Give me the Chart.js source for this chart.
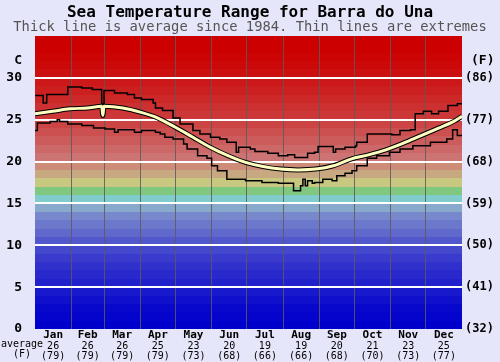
<!DOCTYPE html>
<html>
<head>
<meta charset="utf-8">
<script src="https://cdn.jsdelivr.net/npm/chart.js@4.4.1/dist/chart.umd.min.js"></script>
<style>
	html, body { margin: 0; padding: 0; background: #e6e6fa; }
	#wrap { width: 500px; height: 362px; }
</style>
</head>
<body>
<div id="wrap"><canvas id="sst-chart" width="500" height="362"></canvas></div>
<script>
( function () {
	'use strict';

	// ----------------------------------------------------------------
	// Data
	// ----------------------------------------------------------------
	var MONTHS     = [ 'Jan', 'Feb', 'Mar', 'Apr', 'May', 'Jun', 'Jul', 'Aug', 'Sep', 'Oct', 'Nov', 'Dec' ];
	var MONTH_DAYS = [ 31, 28, 31, 30, 31, 30, 31, 31, 30, 31, 30, 31 ];
	var AVG_C      = [ 26, 26, 26, 25, 23, 20, 19, 19, 20, 21, 23, 25 ];
	var AVG_F      = [ 79, 79, 79, 79, 73, 68, 66, 66, 68, 70, 73, 77 ];

	var Y_TICKS = [ 0, 5, 10, 15, 20, 25, 30 ];

	// average since 1984 (day of year, deg C)
	var AVG_DAY  = [ 0, 15, 30, 45, 57, 58, 59, 75, 90, 105, 120, 135, 150, 165, 180, 195, 210, 225, 240, 255, 270, 285, 300, 315, 330, 345, 358, 365 ];
	var AVG_TEMP = [ 25.7, 26.0, 26.3, 26.4, 26.6, 25.5, 26.6, 26.4, 25.9, 25.2, 24.1, 22.9, 21.7, 20.7, 19.9, 19.4, 19.1, 19.0, 19.1, 19.5, 20.3, 20.8, 21.4, 22.2, 23.1, 24.0, 24.8, 25.4 ];

	// warmest on record
	var MAX_DAY  = [ 0, 7, 10, 28, 40, 49, 57, 59, 68, 79, 85, 91, 101, 103, 109, 118, 124, 135, 141, 150, 158, 164, 172, 174, 184, 188, 199, 208, 216, 222, 233, 239, 242, 255, 257, 265, 274, 275, 284, 305, 312, 321, 325, 332, 339, 345, 353, 361, 365 ];
	var MAX_TEMP = [ 27.9, 27.0, 28.0, 28.9, 28.8, 28.6, 26.9, 28.5, 28.2, 28.0, 27.6, 27.4, 27.0, 26.4, 26.1, 25.2, 24.5, 23.7, 23.3, 22.9, 22.7, 22.3, 21.1, 21.7, 21.5, 21.2, 21.0, 20.7, 20.8, 20.5, 21.0, 21.1, 21.8, 21.1, 21.5, 21.7, 21.9, 22.3, 23.3, 23.2, 23.7, 23.8, 25.7, 26.0, 25.7, 26.0, 26.7, 26.9, 26.9 ];

	// coldest on record
	var MIN_DAY  = [ 0, 2, 13, 19, 21, 28, 40, 50, 60, 68, 71, 85, 91, 103, 107, 111, 118, 127, 130, 139, 147, 151, 156, 164, 180, 194, 208, 221, 227, 229, 231, 233, 237, 239, 246, 254, 258, 265, 271, 275, 284, 292, 303, 312, 323, 338, 352, 357, 361, 365 ];
	var MIN_TEMP = [ 23.7, 24.6, 24.8, 25.0, 24.8, 24.5, 24.3, 24.0, 23.9, 23.5, 23.8, 23.5, 23.7, 23.5, 23.3, 22.9, 22.7, 22.1, 21.5, 20.7, 20.4, 19.5, 18.9, 17.9, 17.7, 17.5, 17.4, 16.5, 17.1, 17.9, 17.1, 17.7, 17.4, 17.5, 17.9, 17.7, 18.3, 18.6, 18.9, 19.5, 20.4, 20.7, 21.1, 21.5, 21.9, 22.3, 22.7, 23.8, 23.1, 23.1 ];

	// one colour per degree band, 0-1 C first
	var BAND_COLORS = [
		'#0000cc', '#0404cc', '#0808cc', '#1010cc', '#1818cc',
		'#2020cc', '#2828cc', '#3030cc', '#3a3acc', '#4448cc',
		'#5058cc', '#6068cc', '#6c78cc', '#7888cc', '#88a8cc',
		'#80cccc', '#80c880', '#c8c880', '#c8a880', '#cc8c78',
		'#cc7474', '#cc6868', '#cc5c5c', '#cc5050', '#cc4444',
		'#cc3838', '#cc3030', '#cc2828', '#cc2020', '#cc1818',
		'#cc1010', '#cc0808', '#cc0404', '#cc0000', '#cc0000',
	];

	var MONO = '"DejaVu Sans Mono", "Liberation Mono", monospace';

	// ----------------------------------------------------------------
	// Helpers
	// ----------------------------------------------------------------

	function points( xs, ys ) {
		return xs.map( function ( x, i ) { return { x: x, y: ys[ i ] }; } );
	}

	var boundaries = [];
	var mids = {};
	( function () {
		var start = 0;
		MONTH_DAYS.forEach( function ( d, i ) {
			mids[ start + d / 2 ] = i;
			start += d;
			if ( i < 11 ) { boundaries.push( start ); }
		} );
	}() );

	function isBoundary( v ) {
		return boundaries.indexOf( v ) !== -1;
	}

	function setYTicks( scale ) {
		scale.ticks = Y_TICKS.map( function ( v ) { return { value: v }; } );
	}

	function setMonthTicks( scale ) {
		var vals = boundaries.slice();
		Object.keys( mids ).forEach( function ( k ) { vals.push( parseFloat( k ) ); } );
		vals.sort( function ( a, b ) { return a - b; } );
		scale.ticks = vals.map( function ( v ) { return { value: v }; } );
	}

	// ----------------------------------------------------------------
	// Plugins
	// ----------------------------------------------------------------

	var bandsPlugin = {
		id: 'bands',
		beforeDraw: function ( chart ) {
			var ctx  = chart.ctx;
			var area = chart.chartArea;
			var y    = chart.scales.y;
			ctx.save();
			BAND_COLORS.forEach( function ( color, i ) {
				var top = Math.round( y.getPixelForValue( i + 1 ) );
				var bot = Math.round( y.getPixelForValue( i ) );
				ctx.fillStyle = color;
				ctx.fillRect( area.left, top, area.right - area.left, bot - top );
			} );
			ctx.restore();
		},
	};

	var extraLabels = {
		id: 'extraLabels',
		afterDraw: function ( chart ) {
			var ctx  = chart.ctx;
			var area = chart.chartArea;
			ctx.save();
			ctx.fillStyle    = '#000';
			ctx.textBaseline = 'middle';
			ctx.font = 'bold 13px ' + MONO;
			ctx.textAlign = 'right';
			ctx.fillText( 'C', area.left - 13, area.top + 25 );
			ctx.textAlign = 'left';
			ctx.fillText( '(F)', area.right + 9, area.top + 25 );
			ctx.font = '10px ' + MONO;
			ctx.textAlign = 'center';
			ctx.fillText( 'average', 22, area.bottom + 15 );
			ctx.fillText( '(F)', 22, area.bottom + 25 );
			ctx.restore();
		},
	};

	// ----------------------------------------------------------------
	// Chart
	// ----------------------------------------------------------------

	new Chart( document.getElementById( 'sst-chart' ), {
		type: 'line',
		data: {
			datasets: [
				{
					label       : 'Average',
					data        : points( AVG_DAY, AVG_TEMP ),
					borderColor : '#ffffc0',
					borderWidth : 3,
					tension     : 0.4,
					cubicInterpolationMode: 'monotone',
				},
				{
					label       : 'Average outline',
					data        : points( AVG_DAY, AVG_TEMP ),
					borderColor : '#000',
					borderWidth : 5,
					tension     : 0.4,
					cubicInterpolationMode: 'monotone',
				},
				{
					label       : 'Max',
					data        : points( MAX_DAY, MAX_TEMP ),
					borderColor : '#000',
					borderWidth : 1.5,
					stepped     : 'before',
				},
				{
					label       : 'Min',
					data        : points( MIN_DAY, MIN_TEMP ),
					borderColor : '#000',
					borderWidth : 1.5,
					stepped     : 'before',
				},
			],
		},
		options: {
			responsive : false,
			animation  : false,
			parsing    : false,
			elements   : { point: { radius: 0, hoverRadius: 0 } },
			layout     : { padding: 0 },
			plugins: {
				legend  : { display: false },
				tooltip : { enabled: false },
				title: {
					display : true,
					text    : 'Sea Temperature Range for Barra do Una',
					color   : '#000',
					font    : { family: MONO, size: 16, weight: 'bold', lineHeight: 1 },
					padding : { top: 5, bottom: 0 },
				},
				subtitle: {
					display : true,
					text    : 'Thick line is average since 1984. Thin lines are extremes',
					color   : '#555',
					font    : { family: MONO, size: 13.8, weight: 'normal', lineHeight: 1 },
					padding : { top: 0, bottom: 1.2 },
				},
			},
			scales: {
				x: {
					type : 'linear',
					min  : 0,
					max  : 365,
					afterBuildTicks : setMonthTicks,
					afterFit : function ( scale ) { scale.height = 12; },
					border   : { display: false },
					grid: {
						drawTicks : false,
						lineWidth : 1,
						color: function ( c ) {
							return c.tick && isBoundary( c.tick.value ) ? 'rgba(90,90,90,0.85)' : 'rgba(0,0,0,0)';
						},
					},
					ticks: {
						autoSkip    : false,
						maxRotation : 0,
						padding     : 1,
						color       : '#000',
						font        : { family: MONO, size: 11, weight: 'bold', lineHeight: 1 },
						callback: function ( v ) {
							var i = mids[ v ];
							return i === undefined ? '' : MONTHS[ i ];
						},
					},
				},
				xAvg: {
					type     : 'linear',
					position : 'bottom',
					min      : 0,
					max      : 365,
					afterBuildTicks : setMonthTicks,
					afterFit : function ( scale ) { scale.height = 21; },
					border   : { display: false },
					grid     : { display: false, drawTicks: false },
					ticks: {
						autoSkip    : false,
						maxRotation : 0,
						padding     : 0,
						color       : '#000',
						font        : { family: MONO, size: 10, weight: 'normal', lineHeight: 1 },
						callback: function ( v ) {
							var i = mids[ v ];
							if ( i === undefined ) { return ''; }
							return [ String( AVG_C[ i ] ), '(' + AVG_F[ i ] + ')' ];
						},
					},
				},
				y: {
					position : 'left',
					min      : 0,
					max      : 35,
					afterBuildTicks : setYTicks,
					afterFit : function ( scale ) { scale.width = 35; },
					border   : { display: false },
					grid: {
						drawTicks : false,
						lineWidth : 2,
						color: function ( c ) {
							return c.tick && c.tick.value > 0 ? '#ffffff' : 'rgba(0,0,0,0)';
						},
					},
					ticks: {
						padding : 13,
						color   : '#000',
						font    : { family: MONO, size: 13, weight: 'bold' },
					},
				},
				y2: {
					position : 'right',
					min      : 0,
					max      : 35,
					afterBuildTicks : setYTicks,
					afterFit : function ( scale ) { scale.width = 38; },
					border   : { display: false },
					grid     : { display: false, drawTicks: false },
					ticks: {
						padding : 3,
						color   : '#000',
						font    : { family: MONO, size: 12, weight: 'bold' },
						callback: function ( v ) { return '(' + Math.round( v * 9 / 5 + 32 ) + ')'; },
					},
				},
			},
		},
		plugins: [ bandsPlugin, extraLabels ],
	} );

}() );
</script>
</body>
</html>
